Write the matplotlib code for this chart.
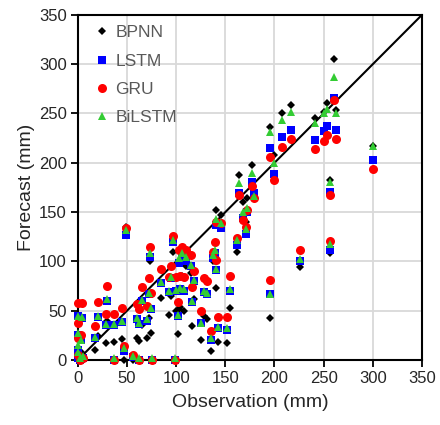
import matplotlib
matplotlib.use('Agg')
import matplotlib.pyplot as plt

plt.rcParams['font.family'] = ['Liberation Sans', 'DejaVu Sans']

# observed rainfall and forecasts of each model (mm)
observation = [0, 0, 0, 0, 2, 3, 4, 5, 17, 20, 29, 30, 37, 37, 45, 47, 49, 56, 60, 62,
               62, 65, 70, 72, 73, 74, 75, 85, 93, 95, 97, 99, 100, 102, 103, 104, 106, 108,
               110, 115, 116, 118, 125, 128, 131, 135, 137, 139, 140, 141, 143, 146, 152, 155,
               162, 164, 168, 171, 172, 177, 179, 195, 195, 199, 208, 217, 226, 241, 250, 253,
               256, 256, 261, 263, 300]
bpnn = [2, 5, 3, 0, 0, 8, 6, 0, 10, 24, 17, 40, 18, 0, 21, 0, 135, 0, 22, 19,
        0, 35, 22, 43, 100, 27, 0, 63, 46, 65, 110, 0, 50, 26, 52, 54, 85, 50,
        95, 88, 34, 62, 20, 45, 42, 9, 100, 100, 152, 73, 18, 147, 17, 53,
        110, 188, 160, 140, 164, 198, 165, 236, 43, 208, 250, 259, 94, 245, 252, 261,
        183, 109, 305, 254, 217]
lstm = [45, 25, 10, 2, 0, 20, 43, 2, 22, 44, 35, 60, 35, 0, 39, 9, 127, 3, 42, 36,
        0, 60, 40, 67, 104, 52, 0, 78, 69, 83, 120, 0, 70, 45, 98, 72, 105, 70,
        100, 95, 59, 80, 37, 69, 67, 20, 103, 108, 137, 91, 32, 134, 30, 70,
        117, 169, 144, 128, 150, 181, 169, 215, 67, 189, 226, 233, 100, 223, 232, 237,
        170, 112, 266, 233, 203]
gru = [58, 37, 22, 5, 0, 25, 58, 2, 34, 59, 47, 75, 47, 0, 53, 14, 134, 5, 57, 52,
       0, 74, 55, 83, 115, 68, 0, 92, 84, 95, 126, 0, 84, 59, 112, 85, 115, 84,
       112, 106, 74, 90, 50, 83, 80, 29, 110, 120, 140, 101, 44, 139, 44, 85,
       124, 167, 142, 135, 152, 176, 164, 206, 81, 183, 216, 224, 112, 214, 222, 228,
       167, 121, 264, 224, 194]
bilstm = [45, 27, 15, 8, 2, 20, 44, 4, 23, 45, 36, 62, 36, 2, 40, 12, 132, 4, 43, 38,
          2, 61, 42, 68, 108, 53, 2, 79, 70, 84, 122, 2, 71, 46, 103, 73, 108, 72,
          104, 96, 60, 81, 38, 70, 68, 22, 106, 112, 143, 92, 33, 139, 32, 72,
          122, 179, 150, 133, 154, 190, 166, 231, 67, 200, 243, 252, 102, 240, 250, 255,
          180, 118, 287, 250, 217]

models = ['BPNN', 'LSTM', 'GRU', 'BiLSTM']
series = [bpnn, lstm, gru, bilstm]
markers = ['D', 's', 'o', '^']
sizes = [4.5, 5.5, 6.5, 6]
colors = ['#000000', '#0000ff', '#ff0000', '#33cc33']

fig = plt.figure(figsize=(4.4, 4.25), dpi=100)
ax = fig.add_axes([0.177, 0.153, 0.782, 0.812])

ax.plot([0, 350], [0, 350], color='black', lw=1.5, zorder=2)
for name, vals, m, ms, c in zip(models, series, markers, sizes, colors):
    ax.plot(observation, vals, linestyle='none', marker=m, markersize=ms,
            color=c, markeredgewidth=0, label=name, zorder=3, clip_on=False)

ax.set_xlim(0, 350)
ax.set_ylim(0, 350)
ax.set_xticks(range(0, 351, 50))
ax.set_yticks(range(0, 351, 50))
ax.grid(True, color='#d9d9d9', lw=1.3, zorder=0)
ax.set_axisbelow(True)
for s in ax.spines.values():
    s.set_linewidth(1.5)
    s.set_color('black')
ax.tick_params(direction='out', length=5, width=1.3, labelsize=12,
               labelcolor='#262626', pad=3)
ax.set_xlabel('Observation (mm)', fontsize=14, color='#262626', labelpad=6)
ax.set_ylabel('Forecast (mm)', fontsize=14, color='#262626', labelpad=3)

leg = ax.legend(loc='upper left', frameon=False, fontsize=12.5, labelspacing=0.75,
                handlelength=0.8, handletextpad=0.35, borderaxespad=0.2,
                bbox_to_anchor=(0.02, 1.0))
for t in leg.get_texts():
    t.set_color('#595959')

fig.savefig('out.png', dpi=100)
